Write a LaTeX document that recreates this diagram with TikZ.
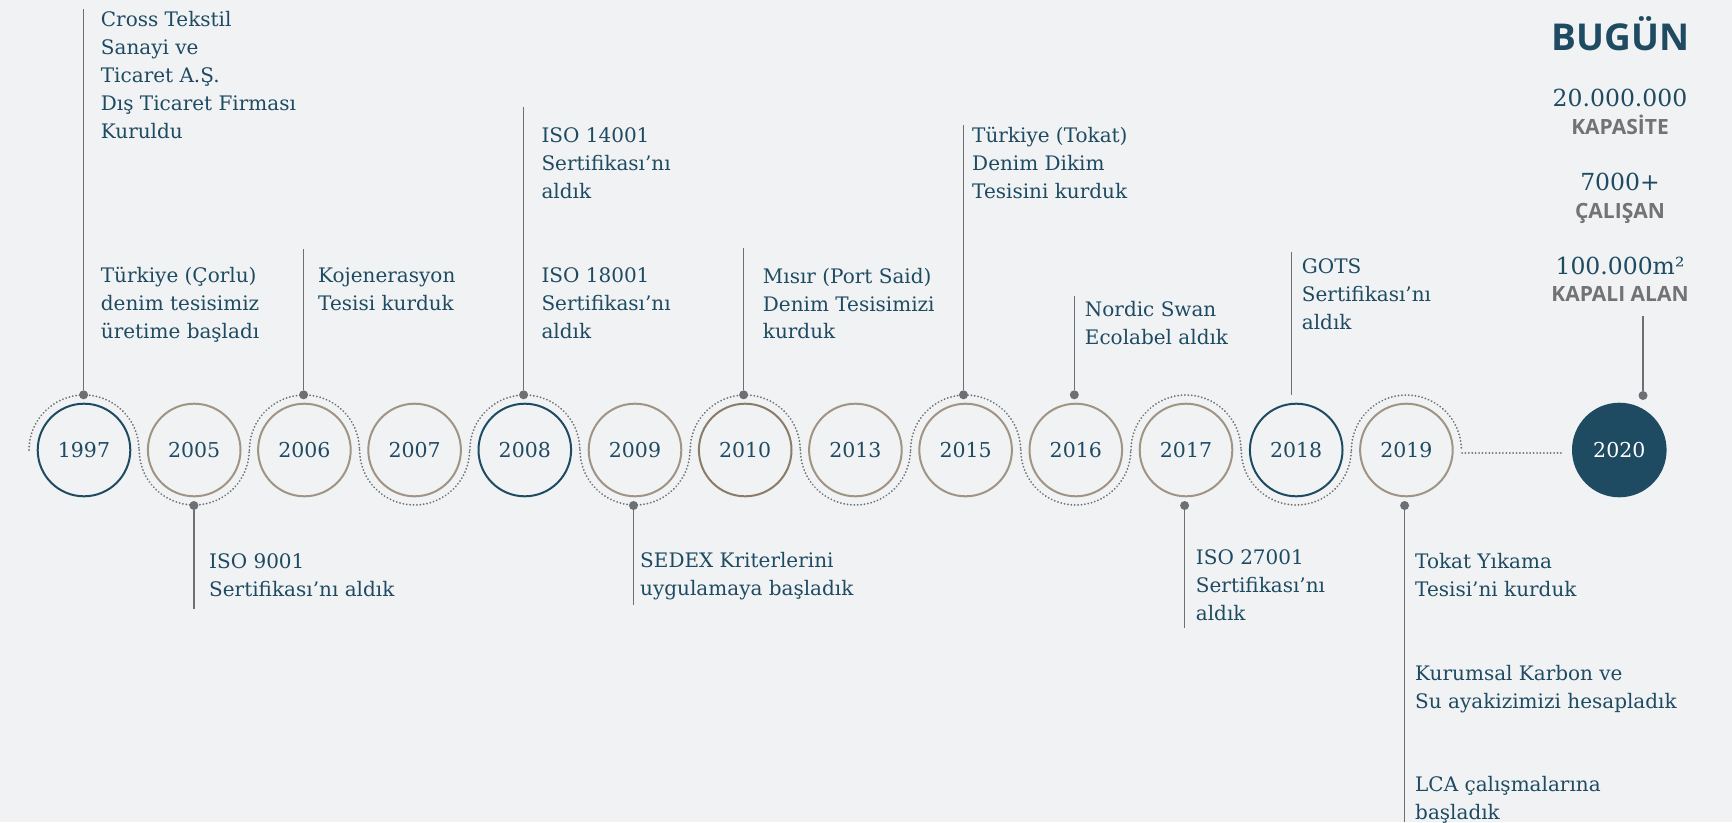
\documentclass[tikz,border=0pt]{standalone}
\usepackage{fontspec}
\newfontfamily\serifF{DejaVu Serif}
\newfontfamily\sansF{Open Sans}
\definecolor{bgc}{HTML}{F1F2F4}
\definecolor{navy}{HTML}{1E4B62}
\definecolor{tan}{HTML}{A09484}
\definecolor{tandark}{HTML}{8A7C69}
\definecolor{stemgray}{HTML}{6E6F72}
\definecolor{ringgray}{HTML}{6E6F72}
\definecolor{capgray}{HTML}{737373}
\newcommand\lblstrut{\rule{0pt}{19pt}}
\begin{document}
\begin{tikzpicture}[x=1pt,y=-1pt,
  yr/.style={circle, minimum size=92.6pt, inner sep=0pt, line width=2pt, text=navy,
    font=\serifF\fontsize{20.5}{24}\selectfont},
  ring/.style={draw=ringgray, line width=2pt, line cap=round, dash pattern=on 0.01pt off 3.4pt},
  stem/.style={draw=stemgray, line width=1.4pt},
  dotn/.style={circle, fill=stemgray, minimum size=9pt, inner sep=0pt},
  lbl/.style={anchor=north west, inner sep=0pt, align=left, text=navy,
    font=\serifF\fontsize{20}{27.8}\selectfont},
  numl/.style={anchor=base, inner sep=0pt, text=navy, font=\serifF\fontsize{23.5}{27}\selectfont},
  capl/.style={anchor=base, inner sep=0pt, text=capgray, font=\sansF\bfseries\fontsize{21}{25}\selectfont}
]
\fill[bgc] (0,0) rectangle (1732,822);
\useasboundingbox (0,0) rectangle (1732,822);

% dotted wave
\draw[ring] (29,450) arc[start angle=180, end angle=0, radius=55pt];
\draw[ring] (139.2,450) arc[start angle=180, end angle=360, radius=55pt];
\draw[ring] (249.4,450) arc[start angle=180, end angle=0, radius=55pt];
\draw[ring] (359.6,450) arc[start angle=180, end angle=360, radius=55pt];
\draw[ring] (469.8,450) arc[start angle=180, end angle=0, radius=55pt];
\draw[ring] (580,450) arc[start angle=180, end angle=360, radius=55pt];
\draw[ring] (690.2,450) arc[start angle=180, end angle=0, radius=55pt];
\draw[ring] (800.4,450) arc[start angle=180, end angle=360, radius=55pt];
\draw[ring] (910.6,450) arc[start angle=180, end angle=0, radius=55pt];
\draw[ring] (1020.8,450) arc[start angle=180, end angle=360, radius=55pt];
\draw[ring] (1131,450) arc[start angle=180, end angle=0, radius=55pt];
\draw[ring] (1241.2,450) arc[start angle=180, end angle=360, radius=55pt];
\draw[ring] (1351.4,450) arc[start angle=180, end angle=0, radius=55pt];
\coordinate (w1) at (1462,452.5);
\coordinate (w2) at (1562,452.5);
\draw[ring] (w1) -- (w2);

% year circles
\node[yr, draw=navy] (c1997) at (84,450) {1997};
\node[yr, draw=tan] (c2005) at (194.2,450) {2005};
\node[yr, draw=tan] (c2006) at (304.4,450) {2006};
\node[yr, draw=tan] (c2007) at (414.6,450) {2007};
\node[yr, draw=navy] (c2008) at (524.8,450) {2008};
\node[yr, draw=tan] (c2009) at (635,450) {2009};
\node[yr, draw=tandark] (c2010) at (745.2,450) {2010};
\node[yr, draw=tan] (c2013) at (855.4,450) {2013};
\node[yr, draw=tan] (c2015) at (965.6,450) {2015};
\node[yr, draw=tan] (c2016) at (1075.8,450) {2016};
\node[yr, draw=tan] (c2017) at (1186,450) {2017};
\node[yr, draw=navy] (c2018) at (1296.2,450) {2018};
\node[yr, draw=tan] (c2019) at (1406.4,450) {2019};
\node[yr, fill=navy, draw=navy, text=white] (c2020) at (1619.3,450) {2020};

% dots
\node[dotn] (d1997) at (83.6,394.8) {};
\node[dotn] (d2005) at (193.9,505.5) {};
\node[dotn] (d2006) at (303.6,394.8) {};
\node[dotn] (d2008) at (523.6,394.8) {};
\node[dotn] (d2009) at (633.5,505.5) {};
\node[dotn] (d2010) at (743.6,394.8) {};
\node[dotn] (d2015) at (963.5,394.8) {};
\node[dotn] (d2016) at (1074.3,394.8) {};
\node[dotn] (d2017) at (1184.6,505.5) {};
\node[dotn] (d2019) at (1404.6,505.5) {};
\node[dotn] (d2020) at (1643,395.5) {};

% stem ends
\coordinate (e1997) at (83.6,9.3);
\coordinate (e2005) at (193.9,608.6);
\coordinate (e2006) at (303.6,249.3);
\coordinate (e2008) at (523.6,107.3);
\coordinate (e2009) at (633.5,605);
\coordinate (e2010) at (743.6,248.3);
\coordinate (e2015) at (963.5,124.8);
\coordinate (e2016) at (1074.3,296);
\coordinate (e2017) at (1184.6,628.3);
\coordinate (e2018a) at (1291.7,251.8);
\coordinate (e2018b) at (1291.7,395);
\coordinate (e2019) at (1404.6,822);
\coordinate (e2020) at (1643,316);

\draw[stem] (d1997) -- (e1997);
\draw[stem] (d2005) -- (e2005);
\draw[stem] (d2006) -- (e2006);
\draw[stem] (d2008) -- (e2008);
\draw[stem] (d2009) -- (e2009);
\draw[stem] (d2010) -- (e2010);
\draw[stem] (d2015) -- (e2015);
\draw[stem] (d2016) -- (e2016);
\draw[stem] (d2017) -- (e2017);
\draw[stem] (e2018a) -- (e2018b);
\draw[stem] (d2019) -- (e2019);
\draw[stem] (d2020) -- (e2020);

% labels (y = first baseline - 19)
\node[lbl] (t1997a) at (100.7,7.7) {\lblstrut Cross Tekstil\\Sanayi ve\\Ticaret A.Ş.\\Dış Ticaret Firması\\Kuruldu};
\node[lbl] (t1997b) at (100.7,263.7) {\lblstrut Türkiye (Çorlu)\\denim tesisimiz\\üretime başladı};
\node[lbl] (t2005) at (209,549) {\lblstrut ISO 9001\\Sertifikası’nı aldık};
\node[lbl] (t2006) at (318,263.7) {\lblstrut Kojenerasyon\\Tesisi kurduk};
\node[lbl] (t2008a) at (541.3,123.7) {\lblstrut ISO 14001\\Sertifikası’nı\\aldık};
\node[lbl] (t2008b) at (541.3,263.3) {\lblstrut ISO 18001\\Sertifikası’nı\\aldık};
\node[lbl] (t2009) at (640,548.5) {\lblstrut SEDEX Kriterlerini\\uygulamaya başladık};
\node[lbl] (t2010) at (762.7,264) {\lblstrut Mısır (Port Said)\\Denim Tesisimizi\\kurduk};
\node[lbl] (t2015) at (972,123.7) {\lblstrut Türkiye (Tokat)\\Denim Dikim\\Tesisini kurduk};
\node[lbl] (t2016) at (1084.7,297.7) {\lblstrut Nordic Swan\\Ecolabel aldık};
\node[lbl] (t2017) at (1195.7,545.3) {\lblstrut ISO 27001\\Sertifikası’nı\\aldık};
\node[lbl] (t2018) at (1301.7,254.3) {\lblstrut GOTS\\Sertifikası’nı\\aldık};
\node[lbl] (t2019a) at (1415,549.3) {\lblstrut Tokat Yıkama\\Tesisi’ni kurduk};
\node[lbl] (t2019b) at (1415,661) {\lblstrut Kurumsal Karbon ve\\Su ayakizimizi hesapladık};
\node[lbl] (t2019c) at (1415,772.5) {\lblstrut LCA çalışmalarına\\başladık};

% today block
\node[anchor=base, inner sep=0pt, text=navy, font=\sansF\bfseries\fontsize{37}{40}\selectfont] (bugun) at (1620.5,50) {BUGÜN};
\node[numl] (n1) at (1620,106.7) {20.000.000};
\node[capl] (k1) at (1620,134) {KAPASİTE};
\node[numl] (n2) at (1620,190.7) {7000+};
\node[capl] (k2) at (1620,218) {ÇALIŞAN};
\node[numl] (n3) at (1620,274) {100.000m²};
\node[capl] (k3) at (1620,301.7) {KAPALI ALAN};
\end{tikzpicture}
\end{document}
